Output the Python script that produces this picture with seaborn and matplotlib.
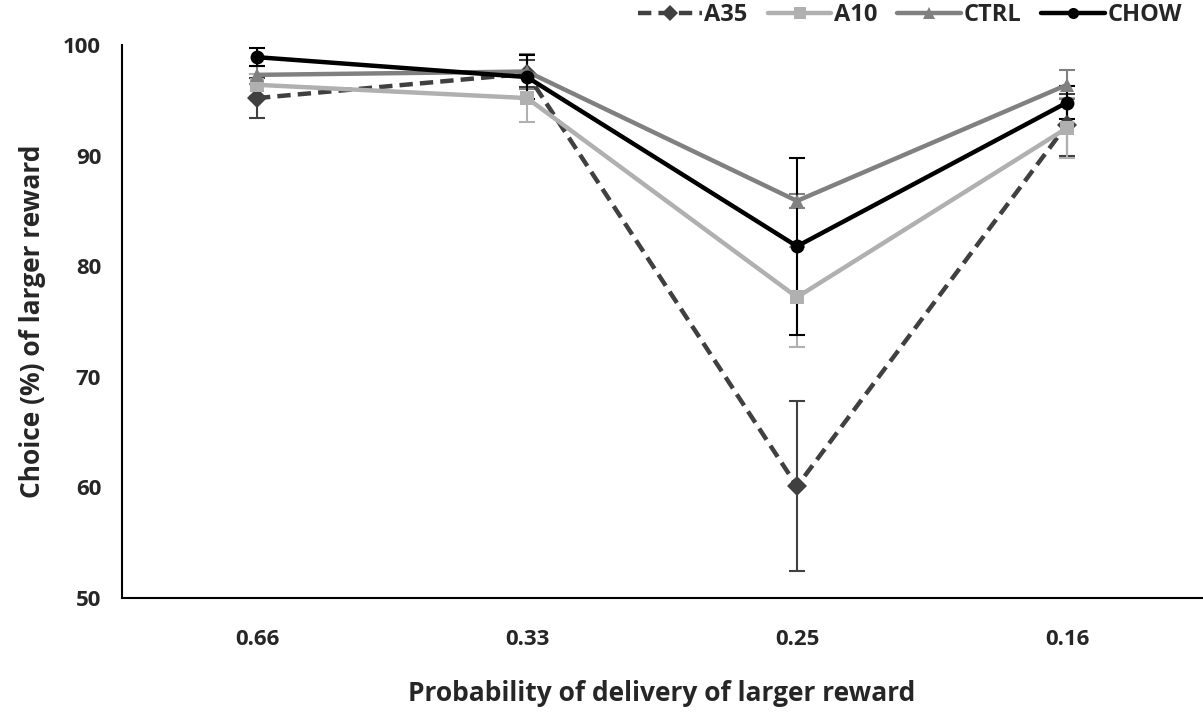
import numpy as np
import pandas as pd
import matplotlib
matplotlib.use('Agg')
import matplotlib.pyplot as plt
import seaborn as sns

# Dados
probabilidades = ['0.66', '0.33', '0.25', '0.16']
grupos = ['A35', 'A10', 'CTRL', 'CHOW']

a35 = [95.2, 97.4, 60.1, 92.8]
a10 = [96.4, 95.2, 77.2, 92.5]
ctrl = [97.3, 97.6, 85.9, 96.4]
chow = [98.9, 97.1, 81.8, 94.8]

a35_err = [1.8, 1.2, 7.7, 2.8]
a10_err = [1.0, 2.2, 4.5, 2.7]
ctrl_err = [0.8, 1.6, 0.6, 1.3]
chow_err = [0.8, 2.0, 8.0, 1.5]

medias = {'A35': a35, 'A10': a10, 'CTRL': ctrl, 'CHOW': chow}
erros = {'A35': a35_err, 'A10': a10_err, 'CTRL': ctrl_err, 'CHOW': chow_err}

cores = {'A35': '#404040', 'A10': '#b0b0b0', 'CTRL': '#808080', 'CHOW': '#000000'}
marcadores = {'A35': 'D', 'A10': 's', 'CTRL': '^', 'CHOW': 'o'}
tracos = {'A35': (3, 1.6), 'A10': '', 'CTRL': '', 'CHOW': ''}

# Montar tabela longa
linhas = []
for g in grupos:
    for i, p in enumerate(probabilidades):
        linhas.append({'pos': i, 'prob': p, 'grupo': g, 'valor': medias[g][i], 'erro': erros[g][i]})
df = pd.DataFrame(linhas)

sns.set_style('white')
plt.rcParams['font.family'] = ['Open Sans', 'DejaVu Sans']
plt.rcParams['font.weight'] = 'bold'

fig = plt.figure(figsize=(12.03, 7.14), dpi=100)
ax = fig.add_axes([122 / 1203, 1 - 598 / 714, 1080 / 1203, 553 / 714])

# Barras de erro
for g in grupos:
    d = df[df['grupo'] == g]
    ax.errorbar(d['pos'], d['valor'], yerr=d['erro'], fmt='none',
                ecolor=cores[g], elinewidth=1.5, capsize=6, capthick=1.5, zorder=1)

sns.lineplot(data=df, x='pos', y='valor', hue='grupo', style='grupo',
             hue_order=grupos, style_order=grupos, palette=cores,
             markers=marcadores, dashes=tracos, linewidth=3.2, markersize=10,
             markeredgewidth=0, ax=ax, sort=False, zorder=2)

ax.set_xlim(-0.5, 3.5)
ax.set_ylim(50, 100)
ax.set_yticks([50, 60, 70, 80, 90, 100])
ax.set_xticks(range(len(probabilidades)))
ax.set_xticklabels(probabilidades)
ax.tick_params(axis='both', labelsize=16, length=0)
ax.tick_params(axis='x', pad=22)
ax.tick_params(axis='y', pad=15)
for lbl in ax.get_xticklabels() + ax.get_yticklabels():
    lbl.set_fontweight('bold')

ax.set_xlabel('Probability of delivery of larger reward', fontsize=19, fontweight='bold', labelpad=22)
ax.set_ylabel('Choice (%) of larger reward', fontsize=19, fontweight='bold', labelpad=12)

sns.despine(ax=ax)
for lado in ['left', 'bottom']:
    ax.spines[lado].set_color('black')
    ax.spines[lado].set_linewidth(1.5)

handles, labels = ax.get_legend_handles_labels()
ax.get_legend().remove()
fig.legend(handles, labels, loc='upper right', bbox_to_anchor=(1.0, 1.025), ncol=4,
           frameon=False, prop={'size': 17, 'weight': 'bold'}, handlelength=2.7,
           handletextpad=0.1, columnspacing=0.85, markerscale=0.8)

plt.savefig('out.png', dpi=100)
